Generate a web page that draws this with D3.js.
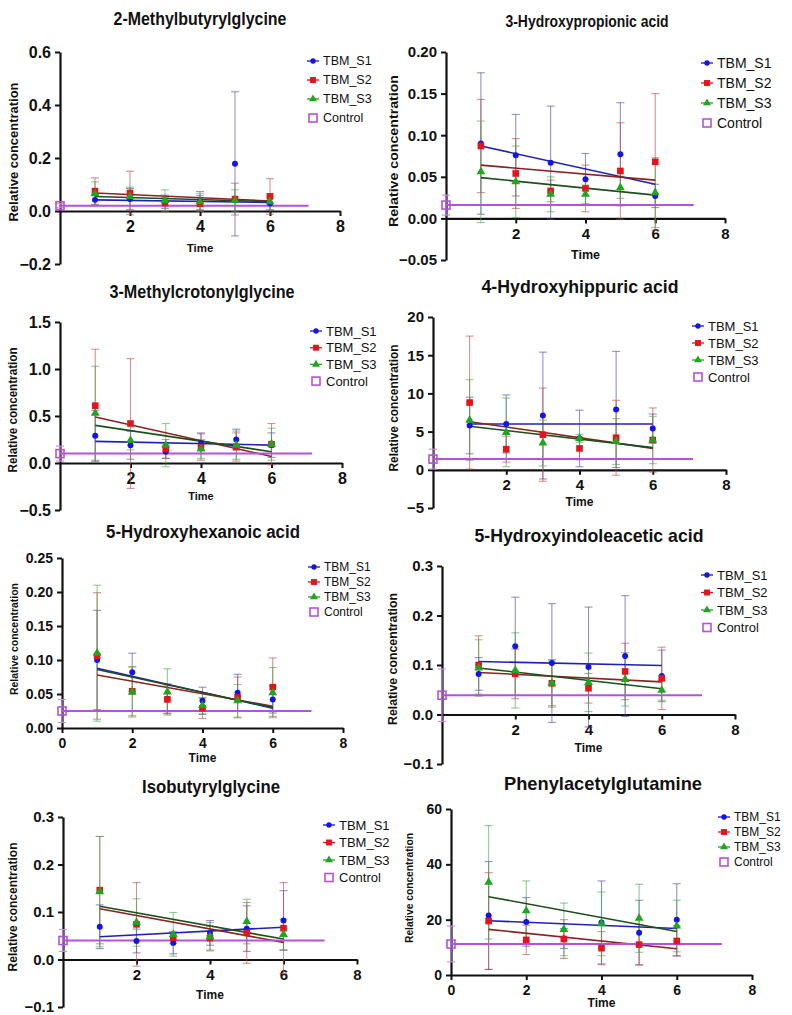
<!DOCTYPE html>
<html><head><meta charset="utf-8">
<script src="https://cdn.jsdelivr.net/npm/d3@7"></script>
<style>body{margin:0;background:#fff}svg{display:block;background:#fff}text{font-family:"Liberation Sans",Arial,sans-serif}</style>
</head><body><svg id="c" width="792" height="1015"></svg>
<script>
// ---------------- DATA ----------------
const titles = ["2-Methylbutyrylglycine","3-Hydroxypropionic acid","3-Methylcrotonylglycine","4-Hydroxyhippuric acid","5-Hydroxyhexanoic acid","5-Hydroxyindoleacetic acid","Isobutyrylglycine","Phenylacetylglutamine"];
const times = [1,2,3,4,5,6];
const seriesNames = ["TBM_S1","TBM_S2","TBM_S3","Control"];
const xAxisTitle = "Time";
const yAxisTitle = "Relative concentration";
const yDomains = [[-0.2,0.6],[-0.05,0.2],[-0.5,1.5],[-5,20],[0,0.25],[-0.1,0.3],[-0.1,0.3],[0,60]];
const yTickValues = [[-0.2,0,0.2,0.4,0.6],[-0.05,0,0.05,0.1,0.15,0.2],[-0.5,0,0.5,1,1.5],[-5,0,5,10,15,20],[0,0.05,0.1,0.15,0.2,0.25],[-0.1,0,0.1,0.2,0.3],[-0.1,0,0.1,0.2,0.3],[0,20,40,60]];
const yTickFormats = [".1f",".2f",".1f","d",".2f",".1f",".1f","d"];
const xTickValues = [[2,4,6,8],[2,4,6,8],[2,4,6,8],[2,4,6,8],[0,2,4,6,8],[2,4,6,8],[2,4,6,8],[0,2,4,6,8]];

const meanS1 = [
 [0.042,0.045,0.030,0.038,0.178,0.028],
 [0.090,0.076,0.067,0.047,0.077,0.027],
 [0.29,0.19,0.12,0.21,0.25,0.19],
 [5.8,6.0,7.1,4.1,7.9,5.4],
 [0.100,0.082,0.043,0.040,0.052,0.042],
 [0.082,0.138,0.104,0.096,0.118,0.078],
 [0.069,0.039,0.035,0.056,0.065,0.082],
 [21.5,19.2,13.2,19.0,15.3,20.0]
];
const sdS1 = [
 [0.02,0.04,0.02,0.035,0.272,0.025],
 [0.085,0.049,0.068,0.031,0.062,0.014],
 [0.27,0.15,0.07,0.11,0.11,0.13],
 [3.7,3.8,8.3,3.7,7.6,1.9],
 [0.073,0.028,0.022,0.02,0.027,0.02],
 [0.033,0.099,0.12,0.121,0.122,0.052],
 [0.046,0.025,0.023,0.026,0.048,0.063],
 [19.5,8.8,3.6,15,11.7,13]
];
const meanS2 = [
 [0.075,0.068,0.030,0.028,0.045,0.055],
 [0.087,0.054,0.033,0.036,0.057,0.068],
 [0.61,0.42,0.15,0.17,0.17,0.20],
 [8.8,2.7,4.6,2.8,4.2,3.9],
 [0.106,0.054,0.042,0.029,0.045,0.060],
 [0.100,0.082,0.063,0.053,0.087,0.073],
 [0.146,0.074,0.046,0.045,0.056,0.066],
 [19.5,12.7,13.0,9.7,11.0,12.3]
];
const sdS2 = [
 [0.05,0.082,0.03,0.03,0.06,0.067],
 [0.056,0.042,0.013,0.028,0.058,0.082],
 [0.6,0.69,0.1,0.14,0.15,0.22],
 [8.7,1.7,6.1,1.5,4.9,4.2],
 [0.093,0.036,0.02,0.015,0.03,0.043],
 [0.059,0.05,0.048,0.03,0.057,0.063],
 [0.113,0.088,0.012,0.025,0.064,0.096],
 [17.5,5.3,7,6,7.3,5.5]
];
const meanS3 = [
 [0.065,0.055,0.040,0.035,0.040,0.035],
 [0.056,0.044,0.029,0.029,0.037,0.031],
 [0.53,0.24,0.19,0.15,0.19,0.20],
 [6.5,4.9,3.5,4.1,3.7,3.9],
 [0.110,0.053,0.053,0.033,0.040,0.052],
 [0.094,0.089,0.063,0.065,0.071,0.049],
 [0.143,0.078,0.053,0.048,0.080,0.053],
 [33.5,23.2,16.5,18.5,20.5,17.7]
];
const sdS3 = [
 [0.045,0.035,0.04,0.03,0.04,0.03],
 [0.061,0.043,0.021,0.011,0.013,0.042],
 [0.5,0.1,0.23,0.1,0.15,0.17],
 [5.3,4.5,3.0,0.5,3.0,3.1],
 [0.1,0.037,0.034,0.012,0.024,0.037],
 [0.057,0.076,0.045,0.059,0.054,0.02],
 [0.116,0.05,0.046,0.03,0.047,0.032],
 [20.5,10.8,9.5,11.5,12.3,9.3]
];
const controlMean = [0.02,0.016,0.10,1.4,0.025,0.039,0.040,11.2];
const controlSd = [0.008,0.012,0.08,1.3,0.017,0.053,0.023,6.5];
const controlLineEnd = [7.1,7.1,7.15,7.1,7.1,7.1,7.12,7.2];
// fitted trend lines, value at time 1 and time 6
const fitS1 = [[0.042,0.032],[0.087,0.041],[0.23,0.19],[6.0,6.0],[0.088,0.029],[0.107,0.099],[0.048,0.068],[19.6,16.8]];
const fitS2 = [[0.068,0.038],[0.064,0.046],[0.49,0.07],[6.3,2.8],[0.078,0.032],[0.085,0.066],[0.107,0.036],[16.5,9.5]];
const fitS3 = [[0.055,0.035],[0.049,0.028],[0.40,0.12],[5.7,2.9],[0.086,0.030],[0.094,0.052],[0.112,0.043],[28.3,15.7]];

// ---------------- LAYOUT ----------------
const layout = [
 {x0:60,x8:340,yT:52,yB:264,tx:200,ty:25,tw:173,tfs:19,tick:16,lmx:313,ly:61,ldy:19,lfs:12.5,yx:13,yy:152,yl:139,yfs:13,timeY:252,timeFs:11.5},
 {x0:446,x8:725,yT:52,yB:260,tx:587,ty:27,tw:163,tfs:16,tick:15,lmx:707,ly:63,ldy:20,lfs:14,yx:393,yy:151,yl:152,yfs:13.5,timeY:259,timeFs:12.5},
 {x0:60,x8:342,yT:322,yB:510,tx:202,ty:298,tw:185,tfs:19,tick:16,lmx:316,ly:331,ldy:16.7,lfs:13,yx:13,yy:410,yl:125,yfs:12,timeY:500,timeFs:11},
 {x0:433,x8:726,yT:317,yB:508,tx:580,ty:293,tw:197,tfs:19,tick:15,lmx:698,ly:326,ldy:17,lfs:13,yx:394,yy:408,yl:127,yfs:12,timeY:506,timeFs:12},
 {x0:62,x8:343,yT:558,yB:728,tx:203,ty:538,tw:194,tfs:18,tick:14,lmx:314,ly:567,ldy:15,lfs:12,yx:14,yy:639,yl:112,yfs:11,timeY:762,timeFs:12},
 {x0:442,x8:735,yT:566,yB:764,tx:589,ty:542,tw:229,tfs:19,tick:15,lmx:707,ly:575,ldy:17.5,lfs:13,yx:393,yy:659,yl:132,yfs:12,timeY:752,timeFs:12},
 {x0:63,x8:357,yT:817,yB:1007,tx:211,ty:793,tw:138,tfs:19,tick:15,lmx:329,ly:825,ldy:17.5,lfs:13,yx:13,yy:907,yl:129,yfs:12,timeY:999,timeFs:12},
 {x0:451,x8:752,yT:809,yB:975,tx:603,ty:790,tw:198,tfs:19,tick:14,lmx:724,ly:817,ldy:15,lfs:12,yx:409,yy:888,yl:110,yfs:10.5,timeY:1007,timeFs:12}
];

const col = {
  mark:['#1414e6','#e5141c','#1fa51f'],
  err:['#4a4aa8','#c04848','#4aa84a'],
  fit:['#2020b8','#8a2222','#1c4f1c'],
  ctrl:'#b452dc', ctrlErr:'#c98ae6'
};
const symTypes = [d3.symbolCircle, d3.symbolSquare, d3.symbolTriangle];
const symSizes = [28, 44, 34];

const svg = d3.select('#c');

titles.forEach((title,i)=>{
  const L = layout[i];
  const x = d3.scaleLinear().domain([0,8]).range([L.x0,L.x8]);
  const y = d3.scaleLinear().domain(yDomains[i]).range([L.yB,L.yT]);
  const g = svg.append('g');

  // title
  g.append('text').attr('x',L.tx).attr('y',L.ty).attr('text-anchor','middle')
    .attr('font-weight','bold').attr('font-size',L.tfs)
    .attr('textLength',L.tw).attr('lengthAdjust','spacingAndGlyphs').attr('fill','#111').text(title);

  // y axis title
  g.append('text').attr('transform',`translate(${L.yx},${L.yy}) rotate(-90)`)
    .attr('text-anchor','middle').attr('dy','0.35em').attr('font-weight','bold')
    .attr('font-size',L.yfs).attr('textLength',L.yl).attr('lengthAdjust','spacingAndGlyphs')
    .attr('fill','#111').text(yAxisTitle);

  // axes
  const ya = g.append('g').attr('transform',`translate(${L.x0},0)`)
    .call(d3.axisLeft(y).tickValues(yTickValues[i]).tickFormat(d3.format(yTickFormats[i])).tickSize(5).tickSizeOuter(0).tickPadding(4));
  const xa = g.append('g').attr('transform',`translate(0,${y(0)})`)
    .call(d3.axisBottom(x).tickValues(xTickValues[i]).tickFormat(d3.format('d')).tickSize(5).tickSizeOuter(0).tickPadding(5));
  [ya,xa].forEach(a=>{
    a.select('.domain').attr('stroke','#111').attr('stroke-width',2.2);
    a.selectAll('.tick line').attr('stroke','#111').attr('stroke-width',2);
    a.selectAll('.tick text').attr('font-size',L.tick).attr('font-weight','bold').attr('fill','#111')
      .attr('font-family','"Liberation Sans",Arial,sans-serif');
  });

  // x axis title
  g.append('text').attr('x',x(4)).attr('y',L.timeY).attr('text-anchor','middle')
    .attr('font-weight','bold').attr('font-size',L.timeFs).attr('fill','#111').text(xAxisTitle);

  const means = [meanS1[i],meanS2[i],meanS3[i]];
  const sds = [sdS1[i],sdS2[i],sdS3[i]];
  const fits = [fitS1[i],fitS2[i],fitS3[i]];
  const cap = 4;

  // error bars
  means.forEach((m,s)=>{
    const eg = g.append('g').attr('stroke',col.err[s]).attr('stroke-opacity',0.6).attr('stroke-width',1.1);
    times.forEach((t,k)=>{
      const hi = y(m[k]+sds[s][k]), lo = y(m[k]-sds[s][k]), cx = x(t);
      eg.append('line').attr('x1',cx).attr('x2',cx).attr('y1',hi).attr('y2',lo);
      eg.append('line').attr('x1',cx-cap).attr('x2',cx+cap).attr('y1',hi).attr('y2',hi);
      eg.append('line').attr('x1',cx-cap).attr('x2',cx+cap).attr('y1',lo).attr('y2',lo);
    });
  });
  // control error bar
  {
    const cx = x(0), hi = y(controlMean[i]+controlSd[i]), lo = y(controlMean[i]-controlSd[i]);
    const eg = g.append('g').attr('stroke',col.ctrlErr).attr('stroke-width',1.1);
    eg.append('line').attr('x1',cx).attr('x2',cx).attr('y1',hi).attr('y2',lo);
    eg.append('line').attr('x1',cx-cap).attr('x2',cx+cap).attr('y1',hi).attr('y2',hi);
    eg.append('line').attr('x1',cx-cap).attr('x2',cx+cap).attr('y1',lo).attr('y2',lo);
  }

  // fit lines
  const line = d3.line().x(d=>x(d[0])).y(d=>y(d[1]));
  fits.forEach((f,s)=>{
    g.append('path').attr('d',line([[times[0],f[0]],[times[times.length-1],f[1]]]))
      .attr('fill','none').attr('stroke',col.fit[s]).attr('stroke-width',1.6);
  });

  // control line
  g.append('path').attr('d',line([[0,controlMean[i]],[controlLineEnd[i],controlMean[i]]]))
    .attr('fill','none').attr('stroke',col.ctrl).attr('stroke-width',2);

  // markers
  means.forEach((m,s)=>{
    const sym = d3.symbol().type(symTypes[s]).size(symSizes[s]);
    g.append('g').selectAll('path').data(times).join('path')
      .attr('transform',(t,k)=>`translate(${x(t)},${y(m[k])})`)
      .attr('d',sym).attr('fill',col.mark[s]);
  });
  // control marker
  g.append('rect').attr('x',x(0)-4).attr('y',y(controlMean[i])-4).attr('width',8).attr('height',8)
    .attr('fill','none').attr('stroke',col.ctrl).attr('stroke-width',1.6);

  // legend
  const lg = g.append('g');
  seriesNames.forEach((name,s)=>{
    const ly = L.ly + s*L.ldy;
    if (s<3){
      lg.append('line').attr('x1',L.lmx-6).attr('x2',L.lmx+6).attr('y1',ly).attr('y2',ly)
        .attr('stroke',col.mark[s]).attr('stroke-width',1.3);
      lg.append('path').attr('transform',`translate(${L.lmx},${ly})`)
        .attr('d',d3.symbol().type(symTypes[s]).size(symSizes[s]*0.8)).attr('fill',col.mark[s]);
    } else {
      lg.append('rect').attr('x',L.lmx-4).attr('y',ly-4).attr('width',8).attr('height',8)
        .attr('fill','none').attr('stroke',col.ctrl).attr('stroke-width',1.6);
    }
    lg.append('text').attr('x',L.lmx+10).attr('y',ly).attr('dy','0.35em')
      .attr('font-size',L.lfs).attr('fill','#111').text(name);
  });
});
</script>
</body></html>
